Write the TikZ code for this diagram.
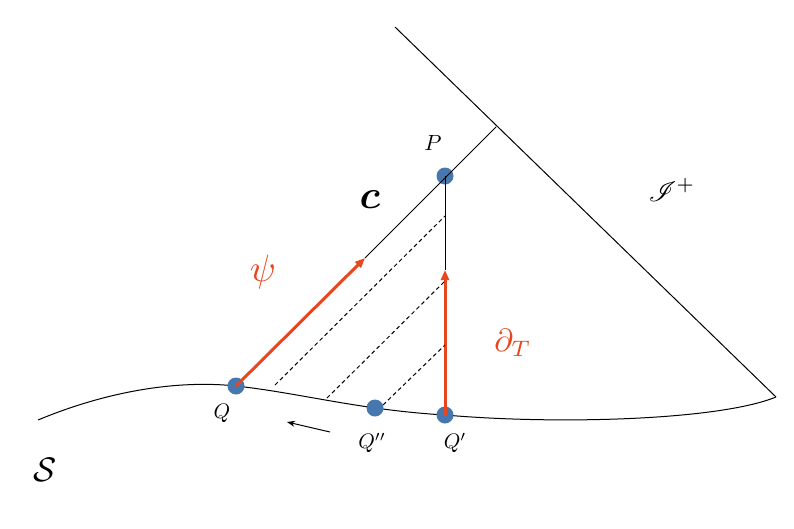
\documentclass[tikz,border=0pt]{standalone}
\usepackage{amsmath,mathrsfs,graphicx}
\usetikzlibrary{arrows.meta}
\definecolor{redar}{RGB}{232,70,30}
\definecolor{dotb}{RGB}{70,120,175}
\begin{document}
\begin{tikzpicture}[x=1pt,y=-1pt,
  dotn/.style={circle,fill=dotb,inner sep=0pt,minimum size=17pt},
  redarrow/.style={redar,line width=3pt,-{Triangle[length=10pt,width=8pt]}},
  thin/.style={line width=1pt}]
\useasboundingbox (0,0) rectangle (794,528);
\coordinate (S1) at (395,27);
\coordinate (S2) at (776,397);
\coordinate (C) at (496,127);
\coordinate (A1) at (365,258);
\coordinate (A2) at (445,270);
\draw[thin] (S1) -- (S2);
\draw[thin] (38,420) .. controls (110,390) and (180,380) .. (236,386)
  .. controls (300,393) and (360,410) .. (445,415)
  .. controls (560,425) and (720,420) .. (S2);
\node[dotn] (Q) at (236,386) {};
\node[dotn] (P) at (445,176) {};
\node[dotn] (Qp) at (445,415) {};
\node[dotn] (Qpp) at (375,408) {};
\draw[thin] (A1) -- (C);
\draw[thin] (A2) -- (P.center);
\draw[redarrow] (Q.center) -- (A1);
\draw[redarrow] (Qp.center) -- (A2);
\draw[thin,dash pattern=on 4pt off 3pt] (275,385) -- (445,216);
\draw[thin,dash pattern=on 4pt off 3pt] (327,398) -- (445,281);
\draw[thin,dash pattern=on 4pt off 3pt] (383,405) -- (445,345);
\coordinate (ar1) at (330,432);
\coordinate (ar2) at (287,422);
\draw[thin,-{Stealth[length=8pt]}] (ar1) -- (ar2);
\node (lP) at (433,143) {\scalebox{2.2}{$P$}};
\node (lc) at (370,200) {\scalebox{4}{$\boldsymbol{c}$}};
\node[redar] (lpsi) at (263,272) {\scalebox{3.8}{$\psi$}};
\node[redar] (ldT) at (513,343) {\scalebox{3.2}{$\partial_T$}};
\node (lS) at (45,470) {\scalebox{3.4}{$\mathcal{S}$}};
\node (lI) at (672,190) {\scalebox{2.8}{$\mathscr{I}^+$}};
\node (lQ) at (222,413) {\scalebox{2.1}{$Q$}};
\node (lQpp) at (372,443) {\scalebox{2.1}{$Q''$}};
\node (lQp) at (455,443) {\scalebox{2.1}{$Q'$}};
\end{tikzpicture}
\end{document}
